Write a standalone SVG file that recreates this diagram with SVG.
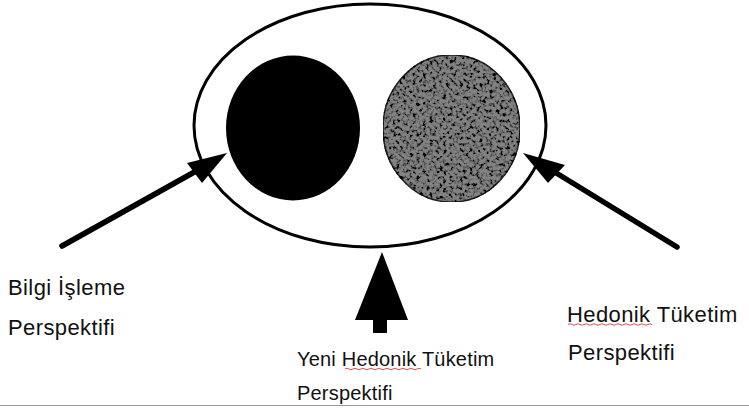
<svg xmlns="http://www.w3.org/2000/svg" width="749" height="410" viewBox="0 0 749 410">
<style>
.lbl{font-family:"Liberation Sans",Arial,sans-serif;fill:#111}
.big{font-size:22px;letter-spacing:0.4px}
.small{font-size:20px;letter-spacing:0.2px}
.shaft{stroke:#000;stroke-width:5.5;stroke-linecap:round;fill:none}
.head{fill:#000}
.spell{stroke:#e05050;stroke-width:1;fill:none}
</style>
<defs>
<filter id="grain" x="0" y="0" width="1" height="1">
<feTurbulence type="fractalNoise" baseFrequency="0.3" numOctaves="2" seed="7" result="n"/>
<feColorMatrix in="n" type="matrix" values="0 0 0 0 0  0 0 0 0 0  0 0 0 0 0  4 0 0 0 -1.8" result="dots"/>
<feComposite in="dots" in2="SourceGraphic" operator="in" result="spk"/>
<feMerge><feMergeNode in="SourceGraphic"/><feMergeNode in="spk"/></feMerge>
</filter>
</defs>
<rect width="749" height="410" fill="#fff"/>
<g id="outer">
<ellipse cx="370" cy="125.5" rx="176" ry="121.5" fill="none" stroke="#000" stroke-width="3"/>
</g>
<g id="black-circle">
<ellipse cx="293" cy="128" rx="67" ry="72.5" fill="#000"/>
</g>
<g id="gray-circle">
<ellipse cx="451.5" cy="128.5" rx="68.5" ry="73.5" fill="#828282" stroke="#222" stroke-width="1.5" filter="url(#grain)"/>
</g>
<g id="connectors">
<line class="shaft" x1="62" y1="246" x2="198" y2="170"/>
<polygon class="head" points="227,153 187,163 202,183"/>
<line class="shaft" x1="677" y1="247" x2="553" y2="171"/>
<polygon class="head" points="523,153 565,165 548,183"/>
<polygon class="head" points="382,252 355,320 408,320"/>
<rect class="head" x="373" y="318" width="14" height="15"/>
</g>
<g id="label-left">
<text class="lbl big" x="8" y="295">Bilgi İşleme</text>
<text class="lbl big" x="8" y="335">Perspektifi</text>
</g>
<g id="label-right">
<text class="lbl big" x="567" y="322">Hedonik Tüketim</text>
<text class="lbl big" x="568" y="360">Perspektifi</text>
<path class="spell" d="M568,324.5 q2,-1.5 4,0 t4,0 t4,0 t4,0 t4,0 t4,0 t4,0 t4,0 t4,0 t4,0 t4,0 t4,0 t4,0 t4,0 t4,0 t4,0 t4,0 t4,0 t4,0 t4,0 t4,0"/>
</g>
<g id="label-bottom">
<text class="lbl small" x="297" y="366">Yeni Hedonik Tüketim</text>
<text class="lbl small" x="297" y="400">Perspektifi</text>
<path class="spell" d="M345,369 q2,-1.5 4,0 t4,0 t4,0 t4,0 t4,0 t4,0 t4,0 t4,0 t4,0 t4,0 t4,0 t4,0 t4,0 t4,0 t4,0 t4,0 t4,0 t4,0 t4,0"/>
</g>
<line x1="0" y1="405.5" x2="749" y2="405.5" stroke="#9a9a9a" stroke-width="1"/>
</svg>
